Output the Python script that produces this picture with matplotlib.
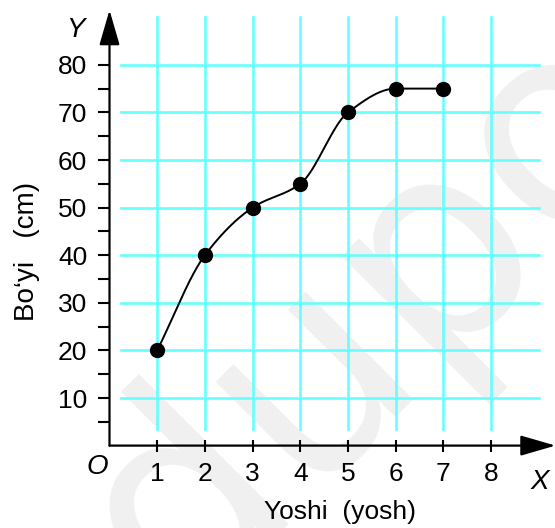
import numpy as np
import matplotlib.pyplot as plt

# data
ages = [1, 2, 3, 4, 5, 6, 7]
heights = [20, 40, 50, 55, 70, 75, 75]
x_ticks = [1, 2, 3, 4, 5, 6, 7, 8]
y_ticks = [10, 20, 30, 40, 50, 60, 70, 80]
y_minor = [5, 15, 25, 35, 45, 55, 65, 75]


def pchip(x, y, xs):
    # monotone cubic hermite, small numpy version
    x = np.asarray(x, float)
    y = np.asarray(y, float)
    h = np.diff(x)
    d = np.diff(y) / h
    m = np.zeros_like(y)
    for i in range(1, len(y) - 1):
        if d[i - 1] * d[i] > 0:
            m[i] = 2 / (1 / d[i - 1] + 1 / d[i])
    m[0] = d[0]
    m[-1] = d[-1]
    out = np.empty_like(xs)
    for j, v in enumerate(xs):
        i = min(np.searchsorted(x, v, side='right') - 1, len(x) - 2)
        t = (v - x[i]) / h[i]
        h00 = 2 * t**3 - 3 * t**2 + 1
        h10 = t**3 - 2 * t**2 + t
        h01 = -2 * t**3 + 3 * t**2
        h11 = t**3 - t**2
        out[j] = h00 * y[i] + h10 * h[i] * m[i] + h01 * y[i + 1] + h11 * h[i] * m[i + 1]
    return out


plt.rcParams['font.family'] = ['Liberation Sans', 'DejaVu Sans']

W, H = 555, 528
fig = plt.figure(figsize=(W / 100, H / 100), dpi=100)
x0, y0 = 109.5, 82.4
sx, sy = 47.7, 4.76
xmax, ymax = 9.35, 92
ax = fig.add_axes([x0 / W, y0 / H, xmax * sx / W, ymax * sy / H])
ax.set_xlim(0, xmax)
ax.set_ylim(0, ymax)

# faint watermark behind everything
fig.text(0.86, 0.60, 'eduportal', rotation=45, fontsize=200, color='#f0f0f0',
         family='DejaVu Sans', ha='center', va='center', zorder=-5)

grid_c = '#66ffff'
for xv in x_ticks:
    ax.plot([xv, xv], [3.5, 90], color=grid_c, lw=1.9, zorder=1, clip_on=False)
for yv in y_ticks:
    ax.plot([0.24, 9.0], [yv, yv], color=grid_c, lw=1.9, zorder=1, clip_on=False)

xs = np.linspace(1, 7, 300)
ax.plot(xs, pchip(ages, heights, xs), color='black', lw=1.4, zorder=3)
ax.plot(ages, heights, 'o', color='black', ms=10, zorder=4)

for s in ax.spines.values():
    s.set_visible(False)
ax.patch.set_alpha(0)

arrow = dict(arrowstyle='-|>,head_length=1.55,head_width=0.45', color='black',
             lw=1.6, shrinkA=0, shrinkB=0, mutation_scale=14)
ax.annotate('', xy=(xmax, 0), xytext=(0, 0), arrowprops=arrow, annotation_clip=False)
ax.annotate('', xy=(0, 91.5), xytext=(0, 0), arrowprops=arrow, annotation_clip=False)

ax.set_xticks(x_ticks)
ax.set_yticks(y_ticks)
ax.set_yticks(y_minor, minor=True)
ax.tick_params(axis='x', direction='inout', length=8, width=1.5, pad=8, labelsize=19)
ax.tick_params(axis='y', which='major', direction='out', length=9, width=1.5, pad=7, labelsize=19)
ax.tick_params(axis='y', which='minor', direction='out', length=9, width=1.5)

ax.set_xlabel('Yoshi  (yosh)', fontsize=19)
ax.xaxis.set_label_coords(4.83 / xmax, -0.125)
ax.set_ylabel('Bo‘yi   (cm)', fontsize=20)
ax.yaxis.set_label_coords(-0.155, 40.7 / ymax)

ax.text(-0.72, 87.3, 'Y', fontsize=20, style='italic', ha='center', va='center')
ax.text(-0.26, -4.6, 'O', fontsize=20, style='italic', ha='center', va='center', clip_on=False)
ax.text(9.02, -7.6, 'X', fontsize=20, style='italic', ha='center', va='center', clip_on=False)

fig.savefig('out.png', dpi=100)
